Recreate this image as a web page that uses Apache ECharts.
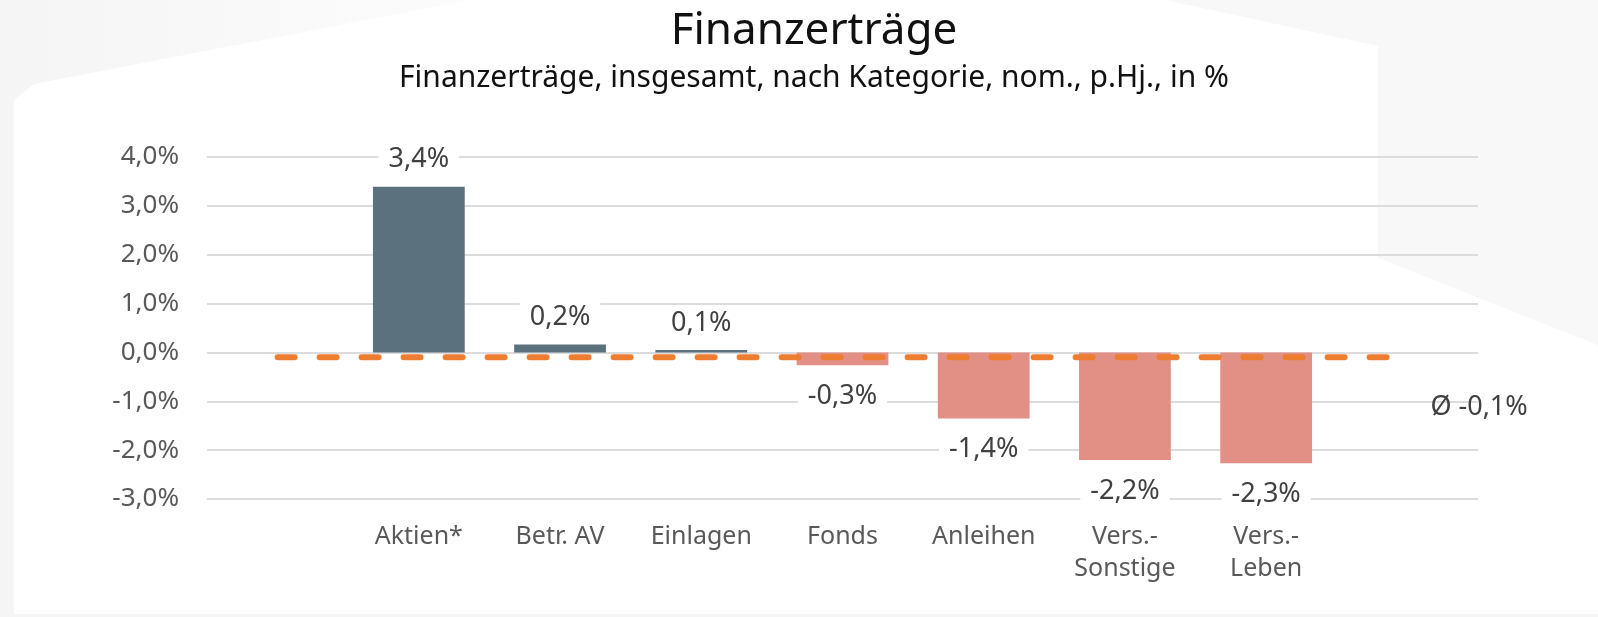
<!DOCTYPE html>
<html>
<head>
<meta charset="utf-8">
<script src="https://cdn.jsdelivr.net/npm/echarts@6/dist/echarts.min.js"></script>
<style>
  html, body { margin: 0; padding: 0; background: #fff; }
  #chart { width: 1598px; height: 617px; }
</style>
</head>
<body>
<div id="chart"></div>
<script>
// Kategorien (erste und letzte leer, damit die Ø-Linie darueber hinausreicht)
var categories = ['', 'Aktien*', 'Betr. AV', 'Einlagen', 'Fonds', 'Anleihen', 'Vers.-\nSonstige', 'Vers.-\nLeben', '']
// Finanzertraege in %
var values = [null, 3.39, 0.16, 0.05, -0.26, -1.35, -2.2, -2.27, null]
// Durchschnitt
var avgLine = [-0.1, -0.1, -0.1, -0.1, -0.1, -0.1, -0.1, -0.1, -0.1]
var avgText = 'Ø -0,1%'
var yTicks = { min: -3, max: 4, interval: 1 }

var FONT = 'Noto Sans'

function fmt(v, d) {
  var s = v < 0 ? -1 : 1
  var r = s * Math.round(Math.abs(v) * Math.pow(10, d)) / Math.pow(10, d)
  return r.toFixed(d).replace('.', ',')
}

var barData = values.map(function (v) {
  if (v === null) return null
  return {
    value: v,
    itemStyle: { color: v >= 0 ? '#5C717E' : '#E29086' },
    label: {
      position: v >= 0 ? 'top' : 'bottom',
      distance: v >= 0 ? 12 : 16
    }
  }
})

var myChart = echarts.init(document.getElementById('chart'))
myChart.setOption({
  animation: false,
  backgroundColor: '#ffffff',
  graphic: [
    {
      type: 'polygon', z: -10, silent: true,
      shape: { points: [[0, 0], [470, 0], [34, 84], [14, 100], [14, 617], [0, 617]] },
      style: {
        fill: new echarts.graphic.LinearGradient(0, 0, 1, 0, [
          { offset: 0, color: '#F5F5F5' },
          { offset: 1, color: '#FCFCFC' }
        ])
      }
    },
    {
      type: 'polygon', z: -10, silent: true,
      shape: { points: [[1165, 0], [1598, 0], [1598, 345], [1378, 258], [1378, 46]] },
      style: { fill: '#F8F8F8' }
    },
    {
      type: 'rect', z: -10, silent: true,
      shape: { x: 0, y: 614, width: 1598, height: 3 },
      style: { fill: '#F5F5F5' }
    },
    {
      type: 'text', silent: true,
      x: 814, y: 31,
      style: {
        text: 'Finanzerträge', font: '44px "' + FONT + '"', fill: '#111111',
        textAlign: 'center', textVerticalAlign: 'middle'
      }
    },
    {
      type: 'text', silent: true,
      x: 814, y: 78,
      style: {
        text: 'Finanzerträge, insgesamt, nach Kategorie, nom., p.Hj., in %',
        font: '30px "' + FONT + '"', fill: '#111111',
        textAlign: 'center', textVerticalAlign: 'middle'
      }
    }
  ],
  grid: { left: 207, right: 120, top: 157, bottom: 118 },
  xAxis: {
    type: 'category',
    data: categories,
    axisLine: { show: false, onZero: false },
    axisTick: { show: false },
    axisLabel: {
      color: '#595959', fontFamily: FONT, fontSize: 25,
      lineHeight: 32, margin: 22, interval: 0
    }
  },
  yAxis: {
    type: 'value',
    min: yTicks.min, max: yTicks.max, interval: yTicks.interval,
    axisLine: { show: false },
    axisTick: { show: false },
    axisLabel: {
      color: '#595959', fontFamily: FONT, fontSize: 26, margin: 28,
      formatter: function (v) { return fmt(v, 1) + '%' }
    },
    splitLine: { lineStyle: { color: '#DCDCDC', width: 2 } }
  },
  series: [
    {
      name: 'Finanzerträge',
      type: 'bar',
      barWidth: '65%',
      data: barData,
      label: {
        show: true,
        color: '#404040', fontFamily: FONT, fontSize: 27,
        backgroundColor: '#ffffff', padding: [1, 10], lineHeight: 28,
        formatter: function (p) { return fmt(p.value, 1) + '%' }
      }
    },
    {
      name: 'Durchschnitt',
      type: 'line',
      data: avgLine,
      showSymbol: false,
      symbol: 'none',
      z: 5,
      lineStyle: { color: '#ED7D31', width: 6, type: [17, 25], cap: 'round' },
      endLabel: {
        show: true,
        formatter: avgText,
        color: '#404040', fontFamily: FONT, fontSize: 27,
        distance: 0,
        offset: [23, 50]
      }
    }
  ]
})
</script>
</body>
</html>
